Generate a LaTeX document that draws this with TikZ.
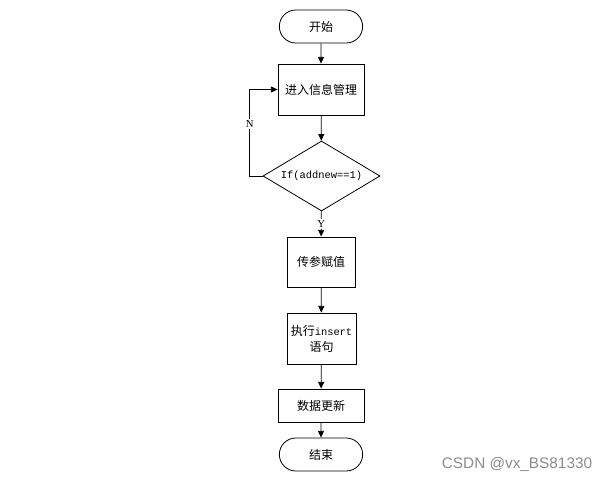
\documentclass[tikz,border=0pt]{standalone}
\usepackage{fontspec}
\setmainfont{Liberation Serif}
\setmonofont{Liberation Mono}
\newfontfamily\cjk{Noto Sans CJK SC}
\newfontfamily\wmfont{Liberation Sans}
\usetikzlibrary{arrows.meta,shapes.geometric,shapes.misc}
\newcommand\prog[1]{{\fontsize{7.8}{9}\selectfont\ttfamily #1}}
\tikzset{
	flow/.style={draw, line width=0.6pt, font=\cjk\fontsize{9}{12}\selectfont, inner sep=1pt},
	term/.style={flow, rounded rectangle, minimum width=64.5pt, minimum height=24.75pt},
	proc/.style={flow, rectangle, align=center},
	cond/.style={flow, diamond, aspect=1.67, inner sep=0pt, minimum width=87.75pt, minimum height=52.5pt},
	link/.style={line width=0.6pt, -{Triangle[length=5pt,width=4.5pt]}},
	tag/.style={fill=white, inner sep=1pt, font=\fontsize{8}{9}\selectfont}
}

\begin{document}
\begin{tikzpicture}[x=0.75pt, y=-0.75pt]
			%%%%% START %%%%%
			\useasboundingbox (0, 0) rectangle (607, 481);
			
			\node[term] (start) at (321, 26.5) {开始};
			\node[proc, minimum width=64.5pt, minimum height=38.25pt] (manage) at (321, 89.5) {进入信息管理};
			\node[cond] (check) at (321.5, 176) {\prog{If(addnew==1)}};
			\node[proc, minimum width=51pt, minimum height=37.5pt] (param) at (321, 262) {传参赋值};
			\node[proc, minimum width=51.75pt, minimum height=38.25pt] (insert) at (321.5, 338.5) {执行\prog{insert}\\语句};
			\node[proc, minimum width=64.5pt, minimum height=24.75pt] (update) at (321, 405.5) {数据更新};
			\node[term] (stop) at (321, 454.5) {结束};
			
			\draw[link] (start) -- (manage);
			\draw[link] (manage) -- (check);
			\draw[link] (check.west) -- ++(-13, 0) |- node[tag, pos=0.3] {N} (manage.west);
			\draw[link] (check) -- node[tag, pos=0.5] {Y} (param);
			\draw[link] (param) -- (insert);
			\draw[link] (insert) -- (update);
			\draw[link] (update) -- (stop);
			
			\node[font=\wmfont\fontsize{11.5}{13}\selectfont, text=black!45] (mark) at (517, 464) {CSDN @vx\_BS81330};
			%%%%% END %%%%%
		\end{tikzpicture}
\end{document}
